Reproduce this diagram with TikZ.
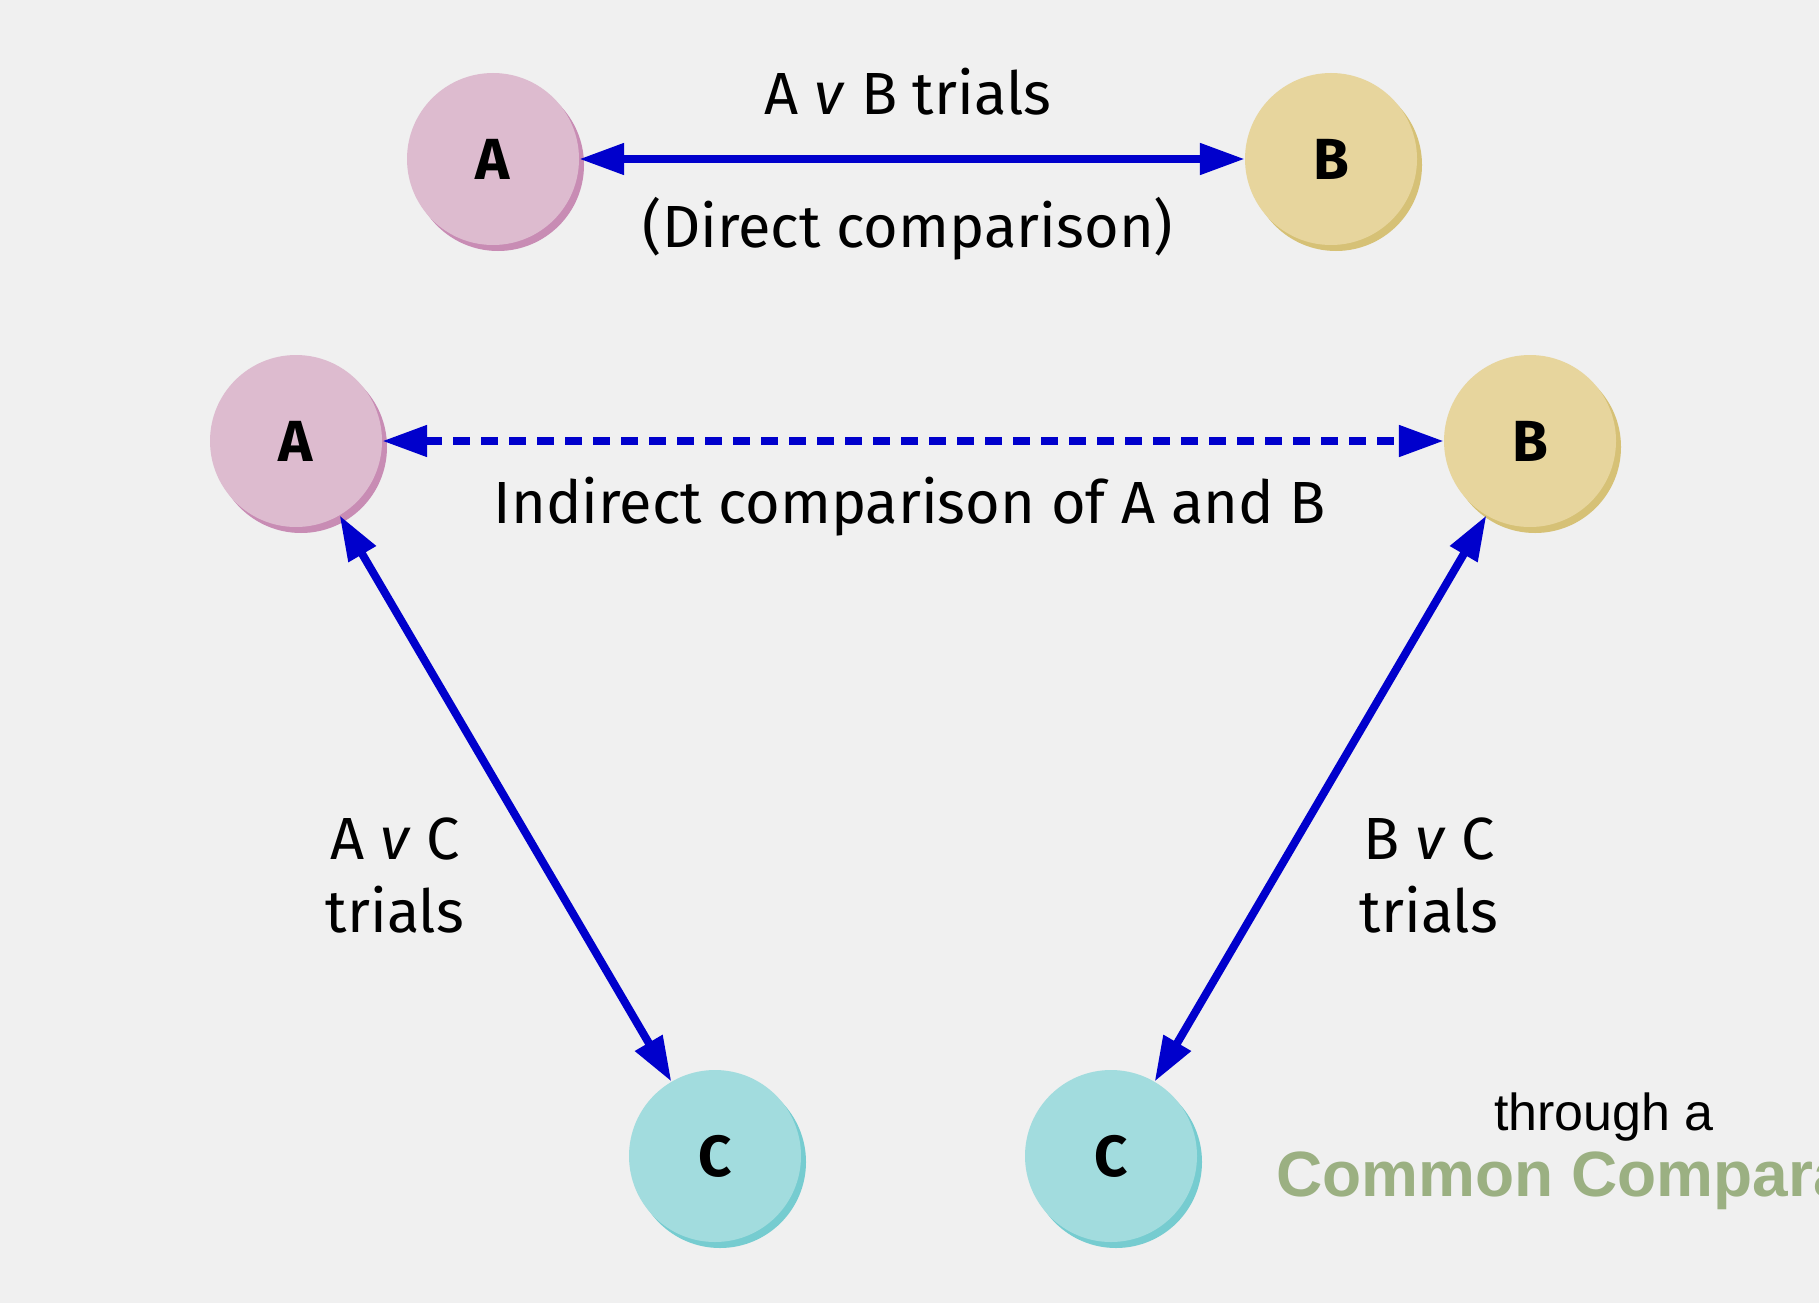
\documentclass[tikz,border=0pt]{standalone}
\usepackage{fontspec}
\setmainfont{Fira Sans}
\newfontfamily\arialfont{Liberation Sans}
\usetikzlibrary{arrows.meta,shadows}
\definecolor{bgc}{RGB}{240,240,240}
\definecolor{aFill}{RGB}{221,187,207}
\definecolor{aShadow}{RGB}{200,140,180}
\definecolor{bFill}{RGB}{231,213,157}
\definecolor{bShadow}{RGB}{214,193,118}
\definecolor{cFill}{RGB}{162,220,222}
\definecolor{cShadow}{RGB}{118,204,208}
\definecolor{arrowBlue}{RGB}{0,0,204}
\definecolor{ccGreen}{RGB}{155,176,130}
\begin{document}
\begin{tikzpicture}[x=1pt,y=-1pt,
  disc/.style={circle, minimum size=172pt, inner sep=0pt, font=\fontsize{58}{60}\selectfont\bfseries},
  discA/.style={disc, fill=aFill, general shadow={shadow xshift=5pt, shadow yshift=-6pt, fill=aShadow}},
  discB/.style={disc, fill=bFill, general shadow={shadow xshift=5pt, shadow yshift=-6pt, fill=bShadow}},
  discC/.style={disc, fill=cFill, general shadow={shadow xshift=5pt, shadow yshift=-6pt, fill=cShadow}},
  conn/.style={draw=arrowBlue, line width=8pt, {Triangle[length=45pt,width=30pt]}-{Triangle[length=45pt,width=30pt]}},
  dconn/.style={conn, dash pattern=on 17pt off 11pt},
  lbl/.style={font=\fontsize{59.5}{73}\selectfont, inner sep=0pt, align=center}
]
\useasboundingbox (0,0) rectangle (1819,1303);
\fill[bgc] (0,0) rectangle (1819,1303);
\clip (0,0) rectangle (1819,1303);

\node[discA] (A1) at (493,159) {A};
\node[discB] (B1) at (1331,159) {B};
\node[discA] (A2) at (296,441) {A};
\node[discB] (B2) at (1530,441) {B};
\node[discC] (C1) at (715,1156) {C};
\node[discC] (C2) at (1111,1156) {C};

\draw[conn] (A1) -- (B1);
\draw[dconn] (A2) -- (B2);
\draw[conn] (A2) -- (C1);
\draw[conn] (B2) -- (C2);

\node[lbl] (tAB) at (908,92) {A \textit{v} B trials};
\node[lbl] (dc) at (908,229) {(Direct comparison)};
\node[lbl] (ind) at (910,507) {Indirect comparison of A and B};
\node[lbl] (avc) at (395,875) {A \textit{v} C\\trials};
\node[lbl] (bvc) at (1429,875) {B \textit{v} C\\trials};
\node[font=\arialfont\fontsize{52}{52}\selectfont, inner sep=0pt] (thr) at (1604,1117) {through a};
\node[font=\arialfont\bfseries\fontsize{64}{64}\selectfont, text=ccGreen, anchor=west, inner sep=0pt] (cc) at (1276,1181) {Common Compara};
\end{tikzpicture}
\end{document}
